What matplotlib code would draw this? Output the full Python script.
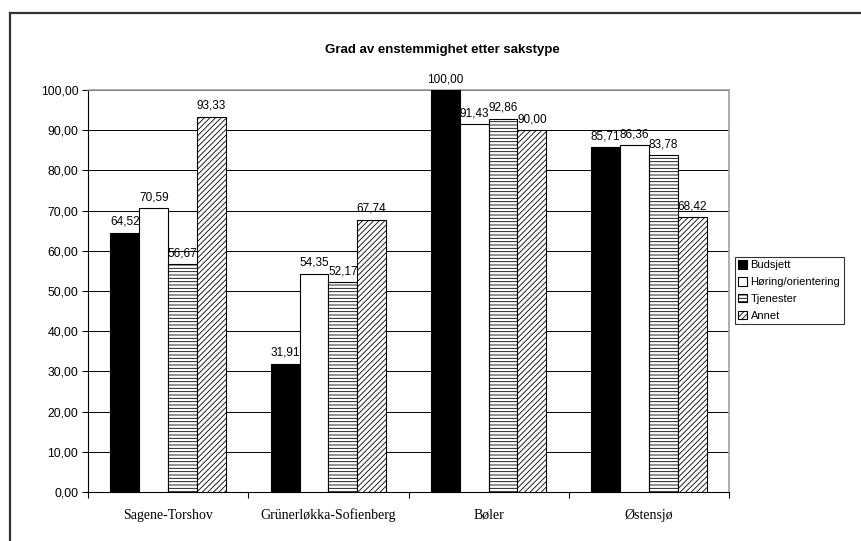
import matplotlib
matplotlib.use("Agg")
import matplotlib.pyplot as plt
import numpy as np
from matplotlib.lines import Line2D

bydeler = ['Sagene-Torshov', 'Grünerløkka-Sofienberg', 'Bøler', 'Østensjø']
serier = ['Budsjett', 'Høring/orientering', 'Tjenester', 'Annet']
budsjett = [64.52, 31.91, 100.00, 85.71]
horing = [70.59, 54.35, 91.43, 86.36]
tjenester = [56.67, 52.17, 92.86, 83.78]
annet = [93.33, 67.74, 90.00, 68.42]
yticks = np.arange(0, 101, 10)

verdier = [budsjett, horing, tjenester, annet]
farger = ['black', 'white', 'white', 'white']
monster = [None, None, '-----', '//////']

plt.rcParams['hatch.linewidth'] = 0.6

fig = plt.figure(figsize=(8.61, 5.41), dpi=100)
W, H = 861, 541
ax = fig.add_axes([88/W, 1-492/H, (729-88)/W, (492-90)/H])

x = np.arange(len(bydeler))
bw = 0.18
for i in range(4):
    pos = x - 1.5*bw + i*bw
    ax.bar(pos, verdier[i], bw, color=farger[i], edgecolor='black',
           hatch=monster[i], linewidth=0.8, label=serier[i], zorder=3)
    for p, v in zip(pos, verdier[i]):
        ax.text(p, v + 1.2, ('%.2f' % v).replace('.', ','), ha='center', va='bottom',
                fontsize=8.5, family='Liberation Sans', zorder=4)

ax.set_xlim(-0.5, 3.5)
ax.set_ylim(0, 100)
ax.set_yticks(yticks)
ax.set_yticklabels([('%.2f' % t).replace('.', ',') for t in yticks],
                   fontsize=8.8, family='Liberation Sans')
ax.set_xticks(x)
ax.set_xticklabels(bydeler, fontsize=10, family='Liberation Serif')
ax.tick_params(axis='x', length=0, pad=12)
ax.set_xticks(np.arange(-0.5, 3.6, 1), minor=True)
ax.tick_params(axis='x', which='minor', length=4, width=0.8, direction='out')
ax.tick_params(axis='y', length=4, width=0.8, direction='out', pad=3)
ax.yaxis.grid(True, color='black', linewidth=0.7, zorder=0)
ax.set_axisbelow(True)
for s in ['top', 'right']:
    ax.spines[s].set_color('#a0a0a0')
    ax.spines[s].set_linewidth(1.2)
for s in ['left', 'bottom']:
    ax.spines[s].set_color('black')
    ax.spines[s].set_linewidth(0.8)

fig.text(442/W, 1-50/H, 'Grad av enstemmighet etter sakstype', ha='center',
         va='center', fontsize=9.5, fontweight='bold', family='Liberation Sans')

leg = fig.legend(loc='upper left', bbox_to_anchor=(735/W, 1-257/H),
                 prop={'family': 'Liberation Sans', 'size': 8}, frameon=True,
                 fancybox=False, handlelength=0.8, handleheight=0.8,
                 handletextpad=0.3, borderpad=0.3, labelspacing=0.6,
                 borderaxespad=0)
leg.get_frame().set_edgecolor('black')
leg.get_frame().set_linewidth(0.8)

fig.add_artist(Line2D([10/W, 10/W], [0, 1-13/H], color='#333333', linewidth=1.6))
fig.add_artist(Line2D([10/W, 1], [1-13/H, 1-13/H], color='#333333', linewidth=1.6))

fig.savefig('out.png', dpi=100)
